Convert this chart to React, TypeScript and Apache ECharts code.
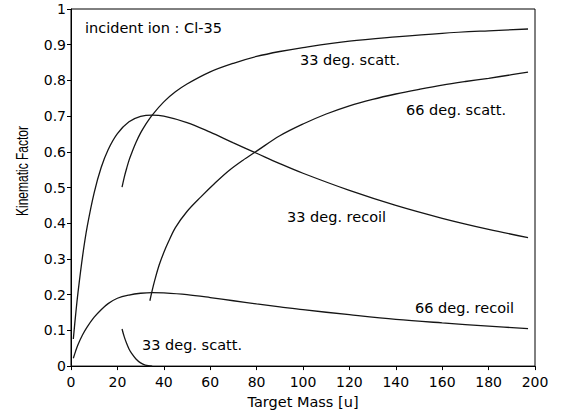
import React, { useEffect, useRef } from "react";
import * as echarts from "echarts";

// Target mass values [u] and kinematic factors
const recoilMass = [1, 2, 3, 5, 7, 10, 13, 16, 20, 25, 30, 35, 40, 50, 60, 70, 80, 90, 100, 120, 140, 160, 180, 197];
const recoil33 = [0.076, 0.144, 0.205, 0.308, 0.391, 0.486, 0.556, 0.606, 0.651, 0.684, 0.699, 0.703, 0.7, 0.682, 0.655, 0.625, 0.596, 0.567, 0.54, 0.492, 0.45, 0.414, 0.383, 0.36];
const recoil66 = [0.022, 0.042, 0.06, 0.088, 0.11, 0.137, 0.158, 0.175, 0.19, 0.199, 0.204, 0.206, 0.205, 0.2, 0.192, 0.183, 0.174, 0.166, 0.158, 0.144, 0.131, 0.121, 0.112, 0.105];

const scatt33UpperMass = [22, 23, 24, 25, 26, 28, 30, 32, 35, 40, 45, 50, 60, 70, 80, 90, 100, 120, 140, 160, 180, 197];
const scatt33Upper = [0.501, 0.53, 0.554, 0.576, 0.594, 0.626, 0.653, 0.675, 0.703, 0.74, 0.768, 0.79, 0.824, 0.848, 0.867, 0.881, 0.892, 0.91, 0.922, 0.932, 0.939, 0.944];

const scatt33LowerMass = [22, 23, 24, 25, 26, 28, 30, 32, 35];
const scatt33Lower = [0.104, 0.081, 0.063, 0.048, 0.037, 0.02, 0.009, 0.003, 0.0];

const scatt66Mass = [34, 35, 36, 38, 40, 42, 45, 50, 56, 62, 68, 74, 80, 90, 100, 110, 120, 130, 140, 150, 160, 170, 180, 190, 197];
const scatt66 = [0.183, 0.212, 0.238, 0.283, 0.318, 0.348, 0.388, 0.433, 0.474, 0.512, 0.547, 0.576, 0.602, 0.645, 0.678, 0.706, 0.729, 0.747, 0.762, 0.775, 0.787, 0.797, 0.806, 0.816, 0.823];

const xTicks = { min: 0, max: 200, interval: 20 };
const yTicks = { min: 0, max: 1, interval: 0.1 };

const annotations = [
  { text: "incident ion : Cl-35", x: 85, y: 28 },
  { text: "33 deg. scatt.", x: 300, y: 60 },
  { text: "66 deg. scatt.", x: 406, y: 110 },
  { text: "33 deg. recoil", x: 287, y: 217 },
  { text: "66 deg. recoil", x: 415, y: 308 },
  { text: "33 deg. scatt.", x: 142, y: 345 },
];

const zip = (xs: number[], ys: number[]) => xs.map((x, i) => [x, ys[i]]);

export default function App() {
  const ref = useRef<HTMLDivElement>(null);
  useEffect(() => {
    if (!ref.current) return;
    const chart = echarts.init(ref.current, undefined, { renderer: "svg" });
    const font = "DejaVu Sans";
    const lineStyle = { color: "#151515", width: 1.3 };
    const mk = (name: string, data: number[][]) => ({
      type: "line",
      name,
      data,
      showSymbol: false,
      smooth: 0.35,
      lineStyle,
      silent: true,
    });
    chart.setOption({
      animation: false,
      backgroundColor: "#fff",
      grid: {
        left: 71,
        right: 26,
        top: 9,
        bottom: 44,
        show: true,
        borderColor: "#000",
        borderWidth: 1,
      },
      xAxis: {
        type: "value",
        min: xTicks.min,
        max: xTicks.max,
        interval: xTicks.interval,
        name: "Target Mass [u]",
        nameLocation: "middle",
        nameGap: 24,
        nameTextStyle: { fontFamily: font, fontSize: 14.5, color: "#000" },
        axisLine: { lineStyle: { color: "#000", width: 1 } },
        axisTick: { inside: false, length: 4, lineStyle: { color: "#000" } },
        axisLabel: { fontFamily: font, fontSize: 14, color: "#000", margin: 9 },
        splitLine: { show: false },
      },
      yAxis: {
        type: "value",
        min: yTicks.min,
        max: yTicks.max,
        interval: yTicks.interval,
        axisLine: { show: true, lineStyle: { color: "#000", width: 1 } },
        axisTick: { show: true, inside: false, length: 4, lineStyle: { color: "#000" } },
        axisLabel: { fontFamily: font, fontSize: 14, color: "#000", margin: 5 },
        splitLine: { show: false },
      },
      graphic: [
        {
          type: "text",
          x: 22,
          y: 171,
          rotation: Math.PI / 2,
          scaleY: 1.3,
          style: {
            text: "Kinematic Factor",
            fontFamily: "Liberation Sans",
            fontSize: 12,
            fill: "#000",
            align: "center",
            verticalAlign: "middle",
          },
        },
        ...annotations.map((a) => ({
          type: "text",
          x: a.x,
          y: a.y,
          style: {
            text: a.text,
            fontFamily: font,
            fontSize: 14.5,
            fill: "#000",
            align: "left",
            verticalAlign: "middle",
          },
        })),
      ],
      series: [
        mk("33 deg. recoil", zip(recoilMass, recoil33)),
        mk("66 deg. recoil", zip(recoilMass, recoil66)),
        mk("33 deg. scatt.", zip(scatt33UpperMass, scatt33Upper)),
        mk("33 deg. scatt. (low)", zip(scatt33LowerMass, scatt33Lower)),
        mk("66 deg. scatt.", zip(scatt66Mass, scatt66)),
      ],
    });
    return () => chart.dispose();
  }, []);
  return (
    <div
      ref={ref}
      style={{ position: "absolute", left: 0, top: 0, width: 561, height: 414, background: "#fff" }}
    />
  );
}
